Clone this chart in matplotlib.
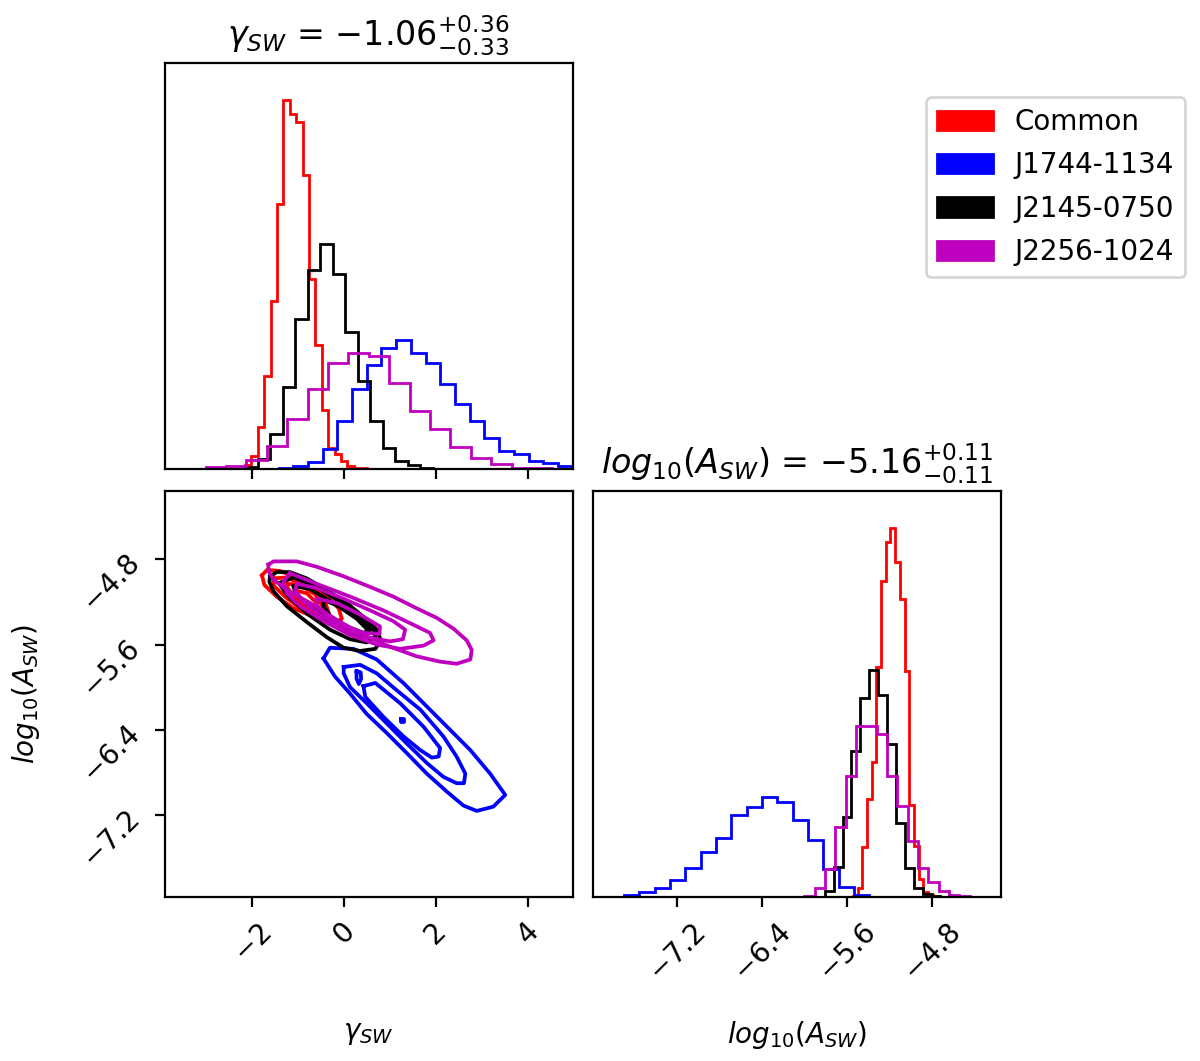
import numpy as np
import matplotlib
matplotlib.use("Agg")
import matplotlib.pyplot as plt
import matplotlib.patches as mpatches

# --- data ------------------------------------------------------------------
labels = ["Common", "J1744-1134", "J2145-0750", "J2256-1024"]
colors = ["r", "b", "k", "m"]

# gamma_SW marginals (relative heights) and their bin ranges
gamma_common = [1, 3.6, 11.3, 25.2, 45.5, 71.8, 100, 96.2, 93.9, 79.5, 51.4,
                33.6, 16, 5.7, 4.1, 2.3, 0.9, 0.3, 0.2]
gamma_j1744 = [0.3, 0.9, 1.8, 5.4, 12.9, 21.6, 28.2, 32.7, 35.0, 31.5, 28.8,
               23.0, 17.6, 13.1, 8.4, 4.8, 4.1, 2.3, 1.5, 0.7]
gamma_j2145 = [0.6, 2.7, 9.5, 22.1, 40.7, 53.8, 60.8, 52.7, 37.2, 23.9, 13.1,
               5.6, 2.3, 1.2, 0.3]
gamma_j2256 = [0, 0.1, 0.5, 0.9, 2.4, 6.1, 13.5, 21.6, 28.8, 31.5, 30.6, 23.4,
               15.8, 10.8, 5.9, 3.0, 1.4, 0.3, 0.3, 0]
gamma_ranges = [(-2.16, 0.49), (-1.43, 4.98), (-2.16, 1.93), (-3.91, 4.98)]

# log10(A_SW) marginals
loga_common = [0.3, 2.4, 13.5, 26.6, 36.5, 62.2, 85.6, 96.0, 100, 90.7, 80.6,
               61.3, 25, 14, 5, 1.4, 0.5, 0.2]
loga_j1744 = [0, 0, 0.7, 1.4, 2.5, 4.7, 7.9, 12.2, 16.0, 22.3, 24.3, 27.2,
              25.9, 20.9, 15.6, 7.7, 2.7, 0.5, 0.1, 0.05]
loga_j2145 = [0.2, 1.8, 8.1, 21.6, 39.6, 53.8, 61.5, 54.7, 41.4, 20, 8, 2.5,
              1.0, 0.4, 0.2]
loga_j2256 = [0.1, 0.4, 2.5, 7.7, 18.9, 32.9, 46.4, 46.4, 44.1, 32.9, 24.8,
              15.1, 7.9, 4.2, 1.8, 0.6, 0.3, 0.2, 0.1, 0.05]
loga_ranges = [(-5.54, -4.748), (-7.985, -5.10), (-5.89, -4.634), (-6.097, -4.152)]

# 2D contours (gamma, log10 A), outer level first
contours_common = [
    [(-1.79, -4.95), (-1.68, -4.90), (-1.39, -4.91), (-0.96, -4.99), (-0.45, -5.12),
     (-0.12, -5.26), (-0.05, -5.36), (-0.23, -5.40), (-0.60, -5.35), (-1.10, -5.26),
     (-1.47, -5.15), (-1.74, -5.04)],
    [(-1.54, -4.98), (-1.25, -4.97), (-0.81, -5.06), (-0.41, -5.21), (-0.32, -5.32),
     (-0.49, -5.35), (-0.89, -5.28), (-1.29, -5.15), (-1.53, -5.05)],
    [(-1.25, -5.03), (-0.96, -5.04), (-0.63, -5.13), (-0.41, -5.28), (-0.52, -5.32),
     (-0.81, -5.26), (-1.10, -5.15), (-1.23, -5.07)],
    [(-1.07, -5.09), (-0.81, -5.12), (-0.60, -5.21), (-0.56, -5.28), (-0.70, -5.28),
     (-0.92, -5.20), (-1.05, -5.13)],
]
contours_j1744 = [
    [(-0.45, -5.73), (-0.31, -5.63), (0.20, -5.64), (0.71, -5.74), (1.29, -5.96),
     (1.80, -6.18), (2.31, -6.40), (2.75, -6.59), (3.18, -6.81), (3.51, -7.01),
     (3.25, -7.12), (2.89, -7.16), (2.60, -7.11), (2.24, -6.98), (1.80, -6.81),
     (1.37, -6.62), (0.93, -6.43), (0.49, -6.25), (0.13, -6.06), (-0.20, -5.90)],
    [(-0.01, -5.81), (0.35, -5.79), (0.71, -5.87), (1.15, -6.03), (1.66, -6.21),
     (2.16, -6.46), (2.45, -6.65), (2.64, -6.81), (2.61, -6.90), (2.45, -6.90),
     (2.16, -6.84), (1.80, -6.71), (1.37, -6.53), (0.93, -6.34), (0.49, -6.15),
     (0.13, -6.00), (-0.01, -5.87)],
    [(0.42, -5.99), (0.68, -5.96), (1.22, -6.15), (1.73, -6.37), (2.09, -6.57),
     (2.06, -6.65), (1.91, -6.66), (1.66, -6.59), (1.29, -6.46), (0.86, -6.28),
     (0.46, -6.09)],
    [(0.27, -5.85), (0.36, -5.86), (0.37, -5.92), (0.32, -5.97), (0.27, -5.92)],
    [(1.24, -6.30), (1.30, -6.30), (1.30, -6.33), (1.24, -6.33)],
]
contours_j2145 = [
    [(-1.61, -4.96), (-1.47, -4.92), (-1.18, -4.92), (-0.81, -4.98), (-0.38, -5.09),
     (0.06, -5.21), (0.42, -5.34), (0.71, -5.46), (0.80, -5.56), (0.68, -5.64),
     (0.35, -5.66), (-0.01, -5.63), (-0.38, -5.53), (-0.81, -5.39), (-1.25, -5.24),
     (-1.54, -5.10), (-1.63, -5.01)],
    [(-1.39, -5.02), (-1.10, -4.97), (-0.60, -5.06), (-0.09, -5.20), (0.35, -5.34),
     (0.64, -5.46), (0.68, -5.53), (0.49, -5.58), (0.13, -5.55), (-0.31, -5.46),
     (-0.81, -5.31), (-1.21, -5.15), (-1.38, -5.05)],
    [(-1.10, -5.05), (-0.74, -5.08), (-0.23, -5.21), (0.28, -5.36), (0.55, -5.48),
     (0.38, -5.52), (-0.01, -5.47), (-0.45, -5.34), (-0.89, -5.19), (-1.08, -5.10)],
    [(-0.45, -5.18), (-0.01, -5.26), (0.42, -5.38), (0.58, -5.46), (0.42, -5.49),
     (0.06, -5.43), (-0.31, -5.33), (-0.45, -5.24)],
]
contours_j2256 = [
    [(-1.65, -4.85), (-1.54, -4.82), (-1.03, -4.82), (-0.60, -4.87), (-0.01, -4.96),
     (0.57, -5.06), (1.07, -5.15), (1.58, -5.26), (2.02, -5.35), (2.38, -5.45),
     (2.67, -5.56), (2.78, -5.65), (2.75, -5.74), (2.45, -5.78), (2.09, -5.76),
     (1.58, -5.71), (1.00, -5.62), (0.42, -5.51), (-0.16, -5.37), (-0.74, -5.21),
     (-1.25, -5.09), (-1.54, -4.99), (-1.65, -4.91)],
    [(-1.18, -4.93), (-0.60, -5.03), (0.13, -5.15), (0.86, -5.28), (1.44, -5.40),
     (1.87, -5.49), (1.95, -5.56), (1.73, -5.61), (1.22, -5.64), (0.71, -5.60),
     (0.13, -5.51), (-0.45, -5.38), (-0.96, -5.24), (-1.25, -5.12), (-1.32, -5.01)],
    [(-1.03, -5.03), (-0.60, -5.07), (-0.01, -5.17), (0.57, -5.28), (1.07, -5.38),
     (1.33, -5.46), (1.28, -5.55), (1.00, -5.57), (0.49, -5.53), (-0.01, -5.45),
     (-0.52, -5.32), (-0.89, -5.20), (-1.07, -5.09)],
    [(-0.60, -5.17), (-0.16, -5.21), (0.35, -5.32), (0.78, -5.43), (0.77, -5.50),
     (0.42, -5.49), (-0.01, -5.42), (-0.41, -5.31), (-0.60, -5.23)],
]

gamma_hists = [gamma_common, gamma_j1744, gamma_j2145, gamma_j2256]
loga_hists = [loga_common, loga_j1744, loga_j2145, loga_j2256]
all_contours = [contours_common, contours_j1744, contours_j2145, contours_j2256]

gamma_ticks = [-2, 0, 2, 4]
loga_ticks = [-7.2, -6.4, -5.6, -4.8]
gamma_lim = (-3.91, 4.98)
loga_lim = (-7.97, -4.157)

# --- figure -----------------------------------------------------------------
fig = plt.figure(figsize=(6.0, 5.305), dpi=200)
W, H = 1200, 1061
ax_g = fig.add_axes([164.7 / W, 1 - 469 / H, 408 / W, 406.3 / H])
ax_2d = fig.add_axes([164.7 / W, 1 - 897.3 / H, 408 / W, 406.6 / H])
ax_a = fig.add_axes([593.3 / W, 1 - 897.3 / H, 407.7 / W, 406.6 / H])

hist_lw = 1.0
cont_lw = 1.35

for vals, rng, c in zip(gamma_hists, gamma_ranges, colors):
    edges = np.linspace(rng[0], rng[1], len(vals) + 1)
    ax_g.stairs(vals, edges, color=c, lw=hist_lw, baseline=0)
for vals, rng, c in zip(loga_hists, loga_ranges, colors):
    edges = np.linspace(rng[0], rng[1], len(vals) + 1)
    ax_a.stairs(vals, edges, color=c, lw=hist_lw, baseline=0)

for conts, c in zip(all_contours, colors):
    for poly in conts:
        pts = np.array(poly + [poly[0]])
        ax_2d.plot(pts[:, 0], pts[:, 1], color=c, lw=cont_lw)

# top marginal
ax_g.set_xlim(*gamma_lim)
ax_g.set_ylim(0, 1.1 * max(max(h) for h in gamma_hists))
ax_g.set_xticks(gamma_ticks)
ax_g.set_xticklabels([])
ax_g.set_yticks([])
ax_g.set_title(r"$\gamma_{SW}$ = $-1.06_{-0.33}^{+0.36}$", fontsize=12)

# 2D panel
ax_2d.set_xlim(*gamma_lim)
ax_2d.set_ylim(*loga_lim)
ax_2d.set_xticks(gamma_ticks)
ax_2d.set_yticks(loga_ticks)
for l in ax_2d.get_xticklabels():
    l.set_rotation(45)
for l in ax_2d.get_yticklabels():
    l.set_rotation(45)
ax_2d.set_xlabel(r"$\gamma_{SW}$")
ax_2d.set_ylabel(r"$log_{10}(A_{SW})$")
ax_2d.xaxis.set_label_coords(0.5, -0.3)
ax_2d.yaxis.set_label_coords(-0.3, 0.5)

# right marginal
ax_a.set_xlim(loga_lim[0] - 0.015, -4.148)
ax_a.set_ylim(0, 1.1 * max(max(h) for h in loga_hists))
ax_a.set_xticks(loga_ticks)
for l in ax_a.get_xticklabels():
    l.set_rotation(45)
ax_a.set_yticks([])
ax_a.set_xlabel(r"$log_{10}(A_{SW})$")
ax_a.xaxis.set_label_coords(0.5, -0.3)
ax_a.set_title(r"$log_{10}(A_{SW})$ = $-5.16_{-0.11}^{+0.11}$", fontsize=12)

handles = [mpatches.Patch(color=c, label=lab) for c, lab in zip(colors, labels)]
fig.legend(handles=handles, loc="upper left", bbox_to_anchor=(926 / W, 1 - 97 / H),
           borderaxespad=0, fontsize=10, labelspacing=0.55)

fig.savefig("out.png", dpi=200)
